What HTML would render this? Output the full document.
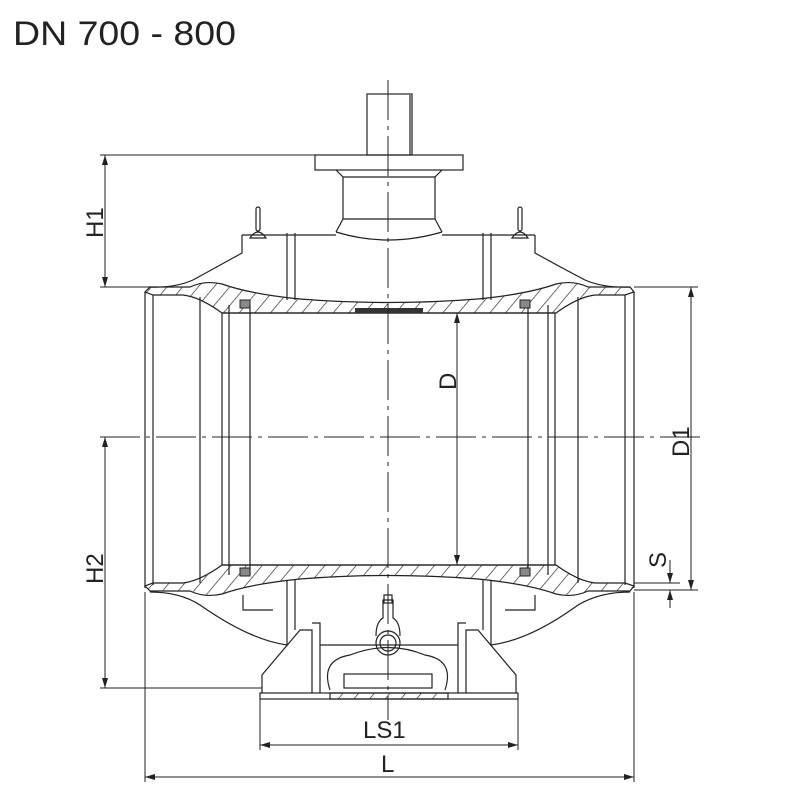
<!DOCTYPE html>
<html><head><meta charset="utf-8"><style>
html,body{margin:0;padding:0;background:#fff;width:800px;height:800px;overflow:hidden}
svg{display:block}
text{font-family:"Liberation Sans",sans-serif;fill:#222}
</style></head><body>
<svg width="800" height="800" viewBox="0 0 800 800" xmlns="http://www.w3.org/2000/svg">
<defs>
<pattern id="h" width="12" height="12" patternUnits="userSpaceOnUse" patternTransform="rotate(40)">
<line x1="0" y1="0" x2="0" y2="12" stroke="#222" stroke-width="1.3"/>
</pattern>
<marker id="a" viewBox="0 0 10 10" refX="10" refY="5" markerWidth="10" markerHeight="10" orient="auto-start-reverse" markerUnits="userSpaceOnUse">
<path d="M0,2 L10,5 L0,8 z" fill="#222"/></marker>
</defs>
<text x="13" y="45" font-size="34" textLength="223" lengthAdjust="spacingAndGlyphs">DN 700 - 800</text>
<g fill="none" stroke="#222" stroke-width="1.2">
<rect x="367" y="94" width="45" height="61"/>
<line x1="410" y1="95" x2="410" y2="155"/>
<rect x="315" y="155" width="148" height="15"/>
<path d="M336,170 L343,177 L343,219 L336,232 M442,170 L435,177 L435,219 L442,232 M343,177 H435 M343,219 H435"/>
<path d="M336,232 Q388,248 442,232"/>
<path d="M242,235 H336 M442,235 H535 M242,235 L242,253 Q215,268 193,280 Q175,288 150,287 M535,235 L535,253 Q562,268 585,280 Q603,288 630,287"/>
<path d="M287,233 V300 M295,233 V300 M483,233 V300 M491,233 V300"/>
<path d="M250,238 Q258,226 266,238 Z M512,238 Q520,226 528,238 Z"/>
<rect x="256" y="207" width="4" height="24" rx="2"/>
<rect x="518" y="207" width="4" height="24" rx="2"/>
<path d="M150,592 Q180,592 200,605 Q250,640 287,645 M630,592 Q600,592 578,605 Q530,640 491,645"/>
<path d="M287,580 V645 M295,580 V630 M483,580 V630 M491,580 V645"/>
<path d="M243,595 V610 H273 M535,595 V610 H505"/>
<path d="M145,292 V588 M153,295 V585 M200,297 V583 M222,313 V565 M634,292 V588 M625,295 V585 M578,297 V583 M555,313 V565"/>
<path d="M229,305 V575 M250,305 V575 M528,305 V575 M548,305 V575"/>
<path d="M222,313 H555 M222,565 H555"/>
<rect x="260" y="693" width="258" height="6"/>
<path d="M262,693 V675 L300,630 H312 V693 M516,693 V675 L478,630 H466 V693 M312,623 H320 V693 M466,623 H458 V693 M320,645 H458"/>
<rect x="344" y="674" width="88" height="14"/>
<path d="M330,690 Q320,660 350,655 Q388,640 425,655 Q455,660 445,690"/>
<circle cx="388" cy="643" r="12"/><circle cx="388" cy="643" r="8"/>
<path d="M376,636 Q376,622 383,618 V600 H393 V618 Q400,622 400,636"/>
<rect x="384" y="595" width="8" height="8"/>
</g>
<g fill="url(#h)" stroke="#222" stroke-width="1.2">
<path d="M145,292 L150,287 L190,287 Q205,280 222,284 Q250,294 300,299 Q388,306 478,299 Q528,294 556,284 Q573,280 588,287 L630,287 L634,292 L625,295 L595,295 Q578,297 556,313 L222,313 Q200,297 183,295 L153,295 Z"/>
<path d="M145,586 L150,591 L190,591 Q205,598 222,594 Q250,584 300,579 Q388,572 478,579 Q528,584 556,594 Q573,598 588,591 L630,591 L634,586 L625,583 L595,583 Q578,581 556,565 L222,565 Q200,581 183,583 L153,583 Z"/>
<path d="M330,699 H448 V693 H330 Z"/>
</g>
<rect x="355" y="308" width="68" height="5" fill="#333"/>
<g fill="#888" stroke="#222"><rect x="240" y="300" width="10" height="8"/><rect x="520" y="300" width="10" height="8"/><rect x="240" y="568" width="10" height="8"/><rect x="520" y="568" width="10" height="8"/></g>
<g stroke="#222" stroke-width="1" fill="none">
<line x1="388" y1="80" x2="388" y2="720" stroke-dasharray="40,6,4,6"/>
<line x1="100" y1="437" x2="700" y2="437" stroke-dasharray="40,6,4,6"/>
</g>
<g stroke="#222" stroke-width="1" fill="none">
<line x1="100" y1="155" x2="315" y2="155"/>
<line x1="100" y1="287" x2="150" y2="287"/>
<line x1="105" y1="155" x2="105" y2="287" marker-start="url(#a)" marker-end="url(#a)"/>
<line x1="100" y1="688" x2="262" y2="688"/>
<line x1="105" y1="437" x2="105" y2="688" marker-start="url(#a)" marker-end="url(#a)"/>
<line x1="634" y1="287" x2="698" y2="287"/>
<line x1="634" y1="590" x2="698" y2="590"/>
<line x1="691" y1="287" x2="691" y2="590" marker-start="url(#a)" marker-end="url(#a)"/>
<line x1="634" y1="583" x2="680" y2="583"/>
<line x1="670" y1="560" x2="670" y2="583" marker-end="url(#a)"/>
<line x1="670" y1="608" x2="670" y2="590" marker-end="url(#a)"/>
<line x1="457" y1="313" x2="457" y2="565" marker-start="url(#a)" marker-end="url(#a)"/>
<line x1="260" y1="699" x2="260" y2="750"/>
<line x1="518" y1="699" x2="518" y2="750"/>
<line x1="260" y1="745" x2="518" y2="745" marker-start="url(#a)" marker-end="url(#a)"/>
<line x1="145" y1="592" x2="145" y2="782"/>
<line x1="634" y1="592" x2="634" y2="782"/>
<line x1="145" y1="777" x2="634" y2="777" marker-start="url(#a)" marker-end="url(#a)"/>
</g>
<g font-size="24">
<text transform="translate(103,238) rotate(-90)">H1</text>
<text transform="translate(103,584) rotate(-90)">H2</text>
<text transform="translate(689,457) rotate(-90)">D1</text>
<text transform="translate(456,390) rotate(-90)">D</text>
<text transform="translate(666,568) rotate(-90)">S</text>
<text x="363" y="738">LS1</text>
<text x="381" y="772">L</text>
</g>
</svg>
</body></html>
